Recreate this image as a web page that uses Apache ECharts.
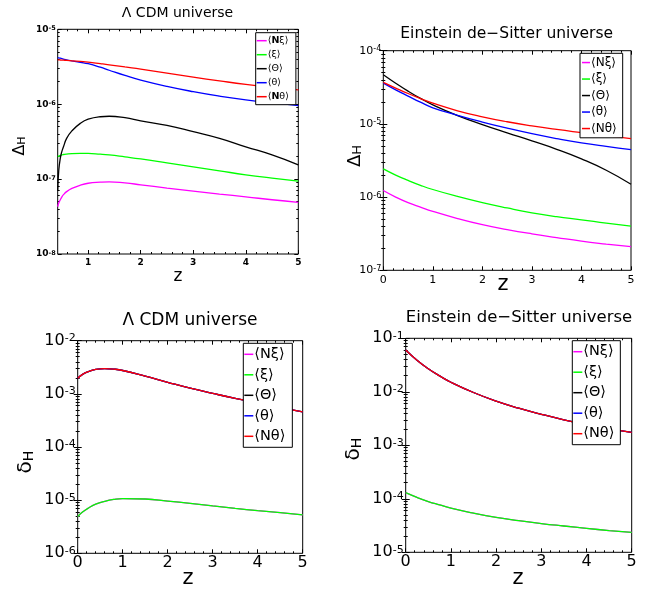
<!DOCTYPE html>
<html><head><meta charset="utf-8">
<script src="https://cdn.jsdelivr.net/npm/echarts@6/dist/echarts.min.js"></script>
<style>html,body{margin:0;padding:0;background:#fff}#c{width:654px;height:591px}</style>
</head><body><div id="c"></div>
<script>
// ---------------- DATA ----------------
const seriesNames = ['⟨Nξ⟩', '⟨ξ⟩', '⟨Θ⟩', '⟨θ⟩', '⟨Nθ⟩'];
const seriesColors = ['#ff00ff', '#00ff00', '#000000', '#0000ff', '#ff0000'];
const panelTitles = ['Λ CDM universe', 'Einstein de−Sitter universe', 'Λ CDM universe', 'Einstein de−Sitter universe'];

// x tick labels per panel
const xTicksLcdmDelta = [1, 2, 3, 4, 5];
const xTicksOther = [0, 1, 2, 3, 4, 5];
// y tick decades (exponents) per panel
const yExpLcdmDelta = [-8, -7, -6, -5];
const yExpEdsDelta = [-7, -6, -5, -4];
const yExpLcdmSmall = [-6, -5, -4, -3, -2];
const yExpEdsSmall = [-5, -4, -3, -2, -1];

// Panel 1: Lambda CDM, Delta_H
const zLcdmDelta = [0.42, 0.44, 0.47, 0.5, 0.53, 0.59, 0.69, 0.85, 1.0, 1.23, 1.4, 1.7, 2.0, 2.5, 3.0, 3.5, 4.0, 4.5, 5.0];
const lcdmDeltaNxi   = [4.3e-8, 4.8e-8, 5.3e-8, 5.8e-8, 6.2e-8, 6.8e-8, 7.5e-8, 8.3e-8, 8.8e-8, 9.1e-8, 9.2e-8, 8.9e-8, 8.4e-8, 7.6e-8, 6.9e-8, 6.3e-8, 5.8e-8, 5.3e-8, 4.9e-8];
const lcdmDeltaXi    = [2.0e-7, 2.03e-7, 2.07e-7, 2.1e-7, 2.13e-7, 2.16e-7, 2.19e-7, 2.2e-7, 2.2e-7, 2.15e-7, 2.1e-7, 1.98e-7, 1.86e-7, 1.65e-7, 1.46e-7, 1.29e-7, 1.14e-7, 1.03e-7, 9.4e-8];
const lcdmDeltaBigTheta = [7e-8, 1.3e-7, 1.9e-7, 2.35e-7, 2.7e-7, 3.5e-7, 4.4e-7, 5.55e-7, 6.3e-7, 6.8e-7, 6.9e-7, 6.6e-7, 6.0e-7, 5.2e-7, 4.3e-7, 3.5e-7, 2.7e-7, 2.1e-7, 1.55e-7];
const lcdmDeltaTheta = [4.2e-6, 4.16e-6, 4.11e-6, 4.06e-6, 4.01e-6, 3.92e-6, 3.8e-6, 3.63e-6, 3.47e-6, 3.12e-6, 2.84e-6, 2.42e-6, 2.1e-6, 1.73e-6, 1.47e-6, 1.28e-6, 1.14e-6, 1.04e-6, 9.6e-7];
const lcdmDeltaNtheta = [3.9e-6, 3.9e-6, 3.89e-6, 3.88e-6, 3.87e-6, 3.85e-6, 3.8e-6, 3.72e-6, 3.64e-6, 3.48e-6, 3.36e-6, 3.14e-6, 2.94e-6, 2.6e-6, 2.3e-6, 2.05e-6, 1.84e-6, 1.68e-6, 1.55e-6];

// Panel 2: Einstein-de Sitter, Delta_H
const zEds = [0, 0.25, 0.5, 0.75, 1, 1.5, 2, 2.5, 3, 3.5, 4, 4.5, 5];
const edsDeltaNxi   = [1.23e-6, 1.0e-6, 8.4e-7, 7.3e-7, 6.4e-7, 5.1e-7, 4.2e-7, 3.6e-7, 3.15e-7, 2.8e-7, 2.5e-7, 2.28e-7, 2.1e-7];
const edsDeltaXi    = [2.43e-6, 2.0e-6, 1.69e-6, 1.45e-6, 1.27e-6, 1.02e-6, 8.4e-7, 7.1e-7, 6.1e-7, 5.4e-7, 4.9e-7, 4.4e-7, 4.0e-7];
const edsDeltaBigTheta = [4.7e-5, 3.6e-5, 2.8e-5, 2.23e-5, 1.82e-5, 1.3e-5, 9.8e-6, 7.55e-6, 5.86e-6, 4.5e-6, 3.33e-6, 2.33e-6, 1.5e-6];
const edsDeltaTheta = [3.6e-5, 2.92e-5, 2.4e-5, 1.98e-5, 1.66e-5, 1.31e-5, 1.06e-5, 8.75e-6, 7.35e-6, 6.3e-6, 5.5e-6, 4.92e-6, 4.45e-6];
const edsDeltaNtheta = [3.7e-5, 3.09e-5, 2.6e-5, 2.22e-5, 1.92e-5, 1.51e-5, 1.25e-5, 1.07e-5, 9.4e-6, 8.4e-6, 7.6e-6, 6.9e-6, 6.3e-6];

// Panel 3: Lambda CDM, delta_H
const zLcdmSmall = [0, 0.1, 0.25, 0.4, 0.6, 0.8, 1, 1.5, 2, 2.5, 3, 3.5, 4, 4.5, 5];
const lcdmSmallUpper = [1.96e-3, 2.3e-3, 2.65e-3, 2.88e-3, 2.98e-3, 2.92e-3, 2.75e-3, 2.15e-3, 1.65e-3, 1.28e-3, 1.02e-3, 8.2e-4, 6.7e-4, 5.5e-4, 4.6e-4];
const lcdmSmallLower = [4.9e-6, 5.9e-6, 7.2e-6, 8.4e-6, 9.5e-6, 1.03e-5, 1.07e-5, 1.05e-5, 9.6e-6, 8.7e-6, 7.8e-6, 7.0e-6, 6.35e-6, 5.8e-6, 5.3e-6];

// Panel 4: Einstein-de Sitter, delta_H
const edsSmallUpper = [6.05e-2, 3.9e-2, 2.7e-2, 1.98e-2, 1.51e-2, 9.7e-3, 6.7e-3, 4.95e-3, 3.8e-3, 3.0e-3, 2.45e-3, 2.05e-3, 1.75e-3];
const edsSmallLower = [1.3e-4, 1.06e-4, 8.9e-5, 7.7e-5, 6.7e-5, 5.4e-5, 4.5e-5, 3.9e-5, 3.45e-5, 3.1e-5, 2.8e-5, 2.55e-5, 2.35e-5];

// ---------------- LAYOUT / STYLE ----------------
const FF = "'DejaVu Sans', 'Liberation Sans', sans-serif";
const panels = [
  { grid: {left: 57.7, top: 29.3, width: 240.6, height: 224.7}, xMin: 0.42, xMax: 5,
    xTicks: xTicksLcdmDelta, yExp: yExpLcdmDelta, z: zLcdmDelta,
    vals: [lcdmDeltaNxi, lcdmDeltaXi, lcdmDeltaBigTheta, lcdmDeltaTheta, lcdmDeltaNtheta],
    lab: {size: 9, weight: 'bold', sup: 6.5, xMargin: 4, yMargin: 2},
    legend: {left: 255.7, top: 32.7, size: 9.5, lh: 12, gap: 2, iw: 10, pad: [2, 7, 2, 1], boldN: true},
    title: {x: 177.5, y: 13.5, size: 14},
    yName: {x: 20, y: 146, big: 16, small: 11, sym: 'Δ'}, xName: {x: 178, y: 276.5, size: 17}
  },
  { grid: {left: 383.3, top: 50.7, width: 247.7, height: 219.6}, xMin: 0, xMax: 5,
    xTicks: xTicksOther, yExp: yExpEdsDelta, z: zEds,
    vals: [edsDeltaNxi, edsDeltaXi, edsDeltaBigTheta, edsDeltaTheta, edsDeltaNtheta],
    lab: {size: 11, weight: 'normal', sup: 8, xMargin: 4, yMargin: 2},
    legend: {left: 580, top: 53.3, size: 12, lh: 14.5, gap: 2, iw: 8, pad: [2, 6, 2, 2], boldN: false},
    title: {x: 506.7, y: 34.2, size: 15.5},
    yName: {x: 355, y: 156, big: 18, small: 13, sym: 'Δ'}, xName: {x: 503, y: 284.5, size: 21}
  },
  { grid: {left: 77.7, top: 340.7, width: 225, height: 212.6}, xMin: 0, xMax: 5,
    xTicks: xTicksOther, yExp: yExpLcdmSmall, z: zLcdmSmall,
    vals: [lcdmSmallLower, lcdmSmallLower, lcdmSmallUpper, lcdmSmallUpper, lcdmSmallUpper],
    lab: {size: 16, weight: 'normal', sup: 11, xMargin: 2, yMargin: 2},
    legend: {left: 243.3, top: 343.3, size: 14.5, lh: 18, gap: 2.5, iw: 9, pad: [2, 7, 2, 1], boldN: false},
    title: {x: 190, y: 320.8, size: 17},
    yName: {x: 26, y: 462, big: 20, small: 14, sym: 'δ'}, xName: {x: 188, y: 579, size: 21}
  },
  { grid: {left: 405.7, top: 338.3, width: 226, height: 214}, xMin: 0, xMax: 5,
    xTicks: xTicksOther, yExp: yExpEdsSmall, z: zEds,
    vals: [edsSmallLower, edsSmallLower, edsSmallUpper, edsSmallUpper, edsSmallUpper],
    lab: {size: 16, weight: 'normal', sup: 11, xMargin: 2, yMargin: 2},
    legend: {left: 572.3, top: 340.7, size: 14.5, lh: 18, gap: 2.5, iw: 9, pad: [2, 6, 2, 1], boldN: false},
    title: {x: 519, y: 317.8, size: 16.5},
    yName: {x: 354, y: 449, big: 20, small: 14, sym: 'δ'}, xName: {x: 518, y: 579, size: 21}
  }
];

const grids = [], xAxes = [], yAxes = [], series = [], legends = [], graphics = [];

panels.forEach((p, g) => {
  grids.push(Object.assign({show: true, borderColor: '#000', borderWidth: 1, backgroundColor: '#fff', containLabel: false}, p.grid));
  const xMinor = [];
  for (let v = Math.ceil(p.xMin * 5) / 5; v <= p.xMax + 1e-9; v = Math.round((v + 0.2) * 10) / 10) {
    if (Math.abs(v - Math.round(v)) > 1e-6) xMinor.push(v);
  }
  const yMajor = p.yExp.map(e => Math.pow(10, e));
  const yMinor = [];
  for (let i = 0; i < p.yExp.length - 1; i++) for (let m = 2; m <= 9; m++) yMinor.push(m * Math.pow(10, p.yExp[i]));
  const yMin = yMajor[0], yMax = yMajor[yMajor.length - 1];

  const labStyle = {color: '#000', fontFamily: FF, fontSize: p.lab.size, fontWeight: p.lab.weight};
  const xBase = {type: 'value', gridIndex: g, min: p.xMin, max: p.xMax, axisLine: {show: false}, splitLine: {show: false}, minorTick: {show: false}};
  const xi = xAxes.length;
  [['bottom', p.xTicks, 4, true], ['bottom', xMinor, 2, false], ['top', p.xTicks, 4, false], ['top', xMinor, 2, false]].forEach(([pos, vals, len, lbl]) => {
    xAxes.push(Object.assign({}, xBase, {
      position: pos,
      axisTick: {show: true, inside: true, length: len, customValues: vals, lineStyle: {color: '#000', width: 1}},
      axisLabel: lbl ? Object.assign({show: true, customValues: vals, margin: p.lab.xMargin, formatter: v => String(Math.round(v))}, labStyle) : {show: false}
    }));
  });
  const yBase = {type: 'log', logBase: 10, gridIndex: g, min: yMin, max: yMax, axisLine: {show: false}, splitLine: {show: false}, minorTick: {show: false}};
  const yi = yAxes.length;
  [['left', yMajor, 4, true], ['left', yMinor, 2, false], ['right', yMajor, 4, false], ['right', yMinor, 2, false]].forEach(([pos, vals, len, lbl]) => {
    yAxes.push(Object.assign({}, yBase, {
      position: pos,
      axisTick: {show: true, inside: true, length: len, customValues: vals, lineStyle: {color: '#000', width: 1}},
      axisLabel: lbl ? {
        show: true, customValues: vals, margin: p.lab.yMargin,
        formatter: v => '{b|10}{s|' + Math.round(Math.log10(v)) + '}',
        rich: {
          b: {fontFamily: FF, fontSize: p.lab.size, fontWeight: p.lab.weight, color: '#000', lineHeight: p.lab.size, verticalAlign: 'bottom'},
          s: {fontFamily: FF, fontSize: p.lab.sup, fontWeight: p.lab.weight, color: '#000', lineHeight: p.lab.sup, verticalAlign: 'top', padding: [0, 0, p.lab.sup * 0.75, 0]}
        }
      } : {show: false}
    }));
  });

  seriesNames.forEach((name, k) => {
    series.push({
      type: 'line', name: name, xAxisIndex: xi, yAxisIndex: yi,
      data: p.z.map((zv, i) => [zv, p.vals[k][i]]),
      showSymbol: false, symbol: 'none', smooth: 0.5,
      lineStyle: {width: 1.3, color: seriesColors[k]}, itemStyle: {color: seriesColors[k]},
      animation: false, clip: true, z: 2 + k
    });
  });

  const L = p.legend;
  legends.push({
    orient: 'vertical', left: L.left, top: L.top, data: seriesNames, icon: 'rect',
    itemWidth: L.iw, itemHeight: 1.5, itemGap: L.gap, padding: L.pad,
    backgroundColor: '#fff', borderColor: '#000', borderWidth: 1, borderRadius: 0,
    selectedMode: false, z: 10,
    formatter: L.boldN ? (n => n.replace('N', '{bn|N}')) : (n => n),
    textStyle: {fontFamily: FF, fontSize: L.size, color: '#000', lineHeight: L.lh, padding: [0, 0, 0, -4],
      rich: {bn: {fontFamily: FF, fontSize: L.size, fontWeight: 'bold', color: '#000', lineHeight: L.lh}}}
  });

  graphics.push({type: 'text', x: p.title.x, y: p.title.y, z: 20,
    style: {text: panelTitles[g], font: p.title.size + 'px ' + FF, fill: '#000', align: 'center', verticalAlign: 'middle'}});
  graphics.push({type: 'text', x: p.xName.x, y: p.xName.y, z: 20,
    style: {text: 'z', font: p.xName.size + 'px ' + FF, fill: '#000', align: 'center', verticalAlign: 'middle'}});
  graphics.push({type: 'text', x: p.yName.x, y: p.yName.y, rotation: Math.PI / 2, z: 20,
    style: {text: '{a|' + p.yName.sym + '}{h|H}', align: 'center', verticalAlign: 'middle', fill: '#000',
      rich: {
        a: {fontFamily: FF, fontSize: p.yName.big, fill: '#000', lineHeight: p.yName.big, verticalAlign: 'top'},
        h: {fontFamily: FF, fontSize: p.yName.small, fill: '#000', lineHeight: p.yName.small, verticalAlign: 'bottom', padding: [p.yName.small * 0.55, 0, 0, 0]}
      }}});
});

const chart = echarts.init(document.getElementById('c'), null, {renderer: 'canvas'});
chart.setOption({
  animation: false,
  backgroundColor: '#fff',
  grid: grids, xAxis: xAxes, yAxis: yAxes, series: series, legend: legends,
  graphic: {elements: graphics}
});
</script>
</body></html>
